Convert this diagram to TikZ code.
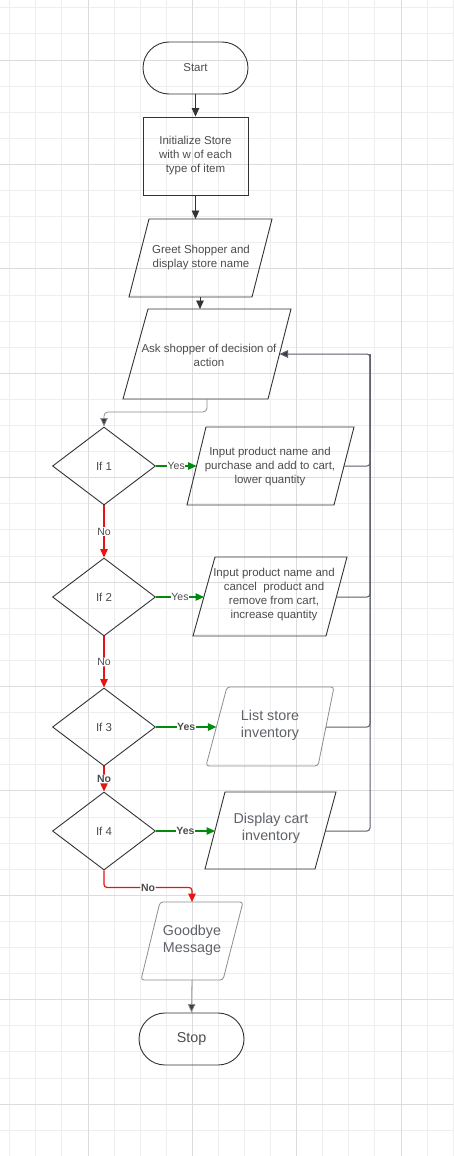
\documentclass[tikz,border=0pt]{standalone}
\usepackage{fontspec}
\setmainfont{Liberation Sans}
\usetikzlibrary{arrows.meta,shapes.geometric}
\definecolor{gridminor}{HTML}{EEEEEE}
\definecolor{gridmajor}{HTML}{DCDCDC}
\definecolor{ink}{HTML}{333333}
\definecolor{txt}{HTML}{4D4D4D}
\definecolor{txtlt}{HTML}{5F6368}
\definecolor{yesgreen}{HTML}{008A0E}
\definecolor{nored}{HTML}{E81313}
\definecolor{railc}{HTML}{5B6069}
\definecolor{softc}{HTML}{8A8D92}
\definecolor{tipc}{HTML}{3A3F47}
\begin{document}
\begin{tikzpicture}[x=1pt,y=-1pt,
  tip/.style={-{Triangle[length=8.5pt,width=7.5pt]}},
  shapeline/.style={draw=ink,line width=0.9pt},
  softshape/.style={draw=softc,line width=0.8pt,rounded corners=3pt},
  smallfont/.style={font=\fontsize{11.5}{14}\selectfont},
  term/.style={shapeline,rectangle,rounded corners=26pt,minimum width=105pt,minimum height=52pt,smallfont,text=txt},
  proc/.style={shapeline,rectangle,minimum width=105pt,minimum height=78pt,align=center,smallfont,text=txt},
  dec/.style={shapeline,diamond,minimum width=103pt,minimum height=78pt,inner sep=0pt,smallfont,text=txt},
  ptext/.style={align=center,smallfont,text=txt,inner sep=0pt},
  bigtext/.style={align=center,font=\fontsize{14.3}{17}\selectfont,text=txtlt,inner sep=0pt},
  flow/.style={draw=ink,line width=0.9pt,tip},
  softflow/.style={draw=softc,line width=0.8pt,rounded corners=4pt,-{Triangle[length=8.5pt,width=7.5pt,fill=tipc]}},
  yesline/.style={draw=yesgreen,line width=1.2pt,tip},
  noline/.style={draw=nored,line width=1.2pt,tip,rounded corners=3pt},
  railline/.style={draw=railc,line width=1pt,rounded corners=3pt},
  lbl/.style={fill=white,inner sep=0.6pt,text=txt,font=\fontsize{10.5}{12}\selectfont},
  blbl/.style={lbl,font=\bfseries\fontsize{10.5}{12}\selectfont}
]
\useasboundingbox (0,0) rectangle (453,1156);
\fill[white] (0,0) rectangle (453,1156);
% grid
\foreach \i in {0,...,17} \draw[gridminor,line width=0.8pt] ({9.7+26.08*\i},0) -- ({9.7+26.08*\i},1156);
\foreach \j in {0,...,44} \draw[gridminor,line width=0.8pt] (0,{7.8+26.1*\j}) -- (453,{7.8+26.1*\j});
\foreach \i in {3,7,11,15} \draw[gridmajor,line width=0.8pt] ({9.7+26.08*\i},0) -- ({9.7+26.08*\i},1156);
\foreach \j in {2,6,...,42} \draw[gridmajor,line width=0.8pt] (0,{7.8+26.1*\j}) -- (453,{7.8+26.1*\j});

% terminals and process
\node[term] (start) at (195.5,68) {Start};
\node[proc] (init) at (195.5,156) {Initialize Store\\with w of each\\type of item};

% greet
\draw[shapeline] (149,219) -- (272,219) -- (252,297) -- (129,297) -- cycle;
\node[ptext] (greet) at (201,258) {Greet Shopper and\\display store name};
\coordinate (greetT) at (195.5,219);
\coordinate (greetB) at (200,297);

% ask
\draw[shapeline] (148,309) -- (291,309) -- (268,399) -- (123,399) -- cycle;
\node[ptext] (ask) at (209,355) {Ask shopper of decision of\\action};
\coordinate (askT) at (200,309);
\coordinate (askB) at (207,399);
\coordinate (askR) at (279.5,354);

% decisions
\node[dec] (if1) at (104,466) {If 1};
\node[dec] (if2) at (104,597) {If 2};
\node[dec] (if3) at (104,727) {If 3};
\node[dec] (if4) at (104,831) {If 4};

% input 1
\draw[shapeline] (206,427) -- (354,427) -- (334,505) -- (187,505) -- cycle;
\node[ptext] (in1) at (270,467) {Input product name and\\purchase and add to cart,\\lower quantity};
\coordinate (in1L) at (196.5,466);
\coordinate (in1R) at (344,466);

% input 2
\draw[shapeline] (215,557) -- (347,557) -- (326,636) -- (193,636) -- cycle;
\node[ptext] (in2) at (274,595) {Input product name and\\cancel\ \ product and\\remove from cart,\\increase quantity};
\coordinate (in2L) at (204,597);
\coordinate (in2R) at (336.4,597);

% list store
\draw[softshape] (227,687) -- (334,687) -- (318,766) -- (206,766) -- cycle;
\node[bigtext] (list) at (270,725.5) {List store\\inventory};
\coordinate (listL) at (216.4,727);
\coordinate (listR) at (326,727);

% display cart
\draw[shapeline] (225,792) -- (336,792) -- (315,869) -- (205,869) -- cycle;
\node[bigtext] (disp) at (271,828.5) {Display cart\\inventory};
\coordinate (dispL) at (215,831);
\coordinate (dispR) at (325.5,831);

% goodbye
\draw[softshape] (160,902) -- (243,902) -- (223,980) -- (141,980) -- cycle;
\node[bigtext] (bye) at (192,940) {Goodbye\\Message};
\coordinate (byeT) at (192,902);
\coordinate (byeB) at (192,980);

% stop
\node[term,font=\fontsize{14.3}{17}\selectfont] (stop) at (191.5,1039) {Stop};

\coordinate (rail) at (370,354);

% main flow
\draw[flow] (start) -- (init);
\draw[flow] (init.south) -- (greetT);
\draw[flow] (greetB) -- (askT);
\draw[softflow] (askB) -- ++(0,13) -| (if1.north);

% yes branches
\draw[yesline] (if1.east) -- node[lbl]{Yes} (in1L);
\draw[yesline] (if2.east) -- node[lbl]{Yes} (in2L);
\draw[yesline] (if3.east) -- node[blbl]{Yes} (listL);
\draw[yesline] (if4.east) -- node[blbl]{Yes} (dispL);

% no branches
\draw[noline] (if1.south) -- node[lbl]{No} (if2.north);
\draw[noline] (if2.south) -- node[lbl]{No} (if3.north);
\draw[noline] (if3.south) -- node[blbl]{No} (if4.north);
\draw[noline] (if4.south) -- ++(0,17) -| node[pos=0.25,blbl]{No} (byeT);

% end
\draw[softflow] (byeB) -- (stop.north);

% return rail
\draw[railline] (in1R) -| (rail);
\draw[railline] (in2R) -| (rail);
\draw[railline] (listR) -| (rail);
\draw[railline,-{Triangle[length=8.5pt,width=7.5pt,fill=tipc]}] (dispR) -| (rail) -- (askR);
\end{tikzpicture}
\end{document}
